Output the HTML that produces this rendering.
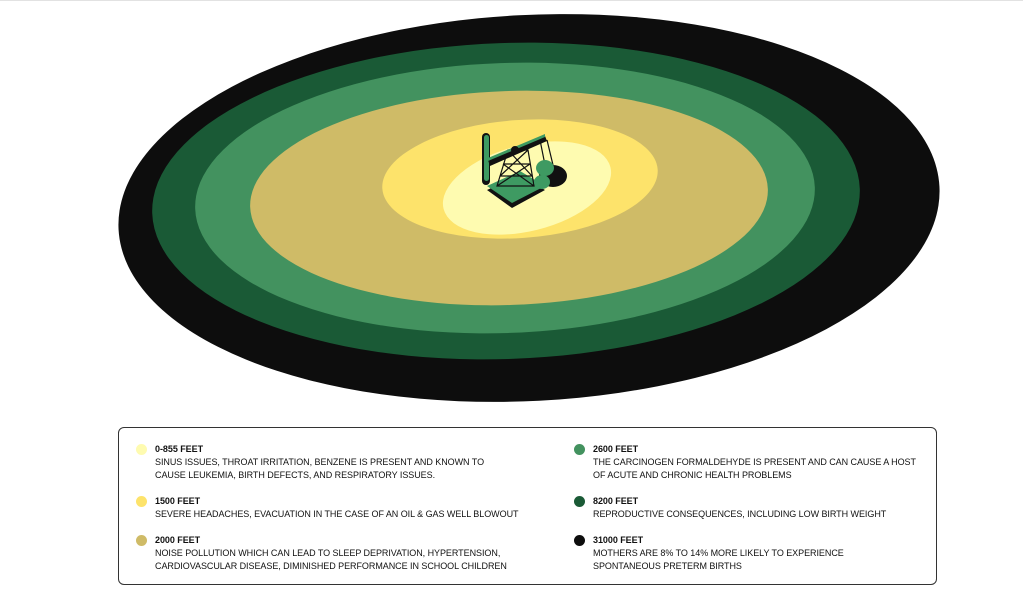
<!DOCTYPE html>
<html><head><style>
html,body{margin:0;padding:0;background:#fff;width:1023px;height:593px;overflow:hidden;font-family:"Liberation Sans",sans-serif;}
.top{position:absolute;left:0;top:0;width:1023px;height:1px;background:#e2e2e2}
.legend{position:absolute;left:118px;top:427px;width:819px;height:158px;border:1.5px solid #333;border-radius:6px;box-sizing:border-box}
.item{position:absolute;font-size:9px;line-height:13px;color:#111;white-space:nowrap;letter-spacing:-0.05px}
.item b{font-weight:bold;display:block}
.dot{position:absolute;width:11px;height:11px;border-radius:50%;left:-19px;top:1px}
</style></head><body>
<div class="top"></div>
<svg width="1023" height="420" style="position:absolute;left:0;top:0">
<ellipse cx="529" cy="208" rx="411" ry="193" fill="#0d0d0d" transform="rotate(-3 529 208)"/>
<ellipse cx="506" cy="201" rx="354" ry="158" fill="#1a5a36" transform="rotate(-2 506 201)"/>
<ellipse cx="505" cy="198" rx="310" ry="135" fill="#43925f" transform="rotate(-2 505 198)"/>
<ellipse cx="509" cy="198" rx="259" ry="107" fill="#cfbb67" transform="rotate(-2 509 198)"/>
<ellipse cx="520" cy="179" rx="138" ry="59" fill="#fde36b" transform="rotate(-4 520 179)"/>
<ellipse cx="527" cy="188" rx="86" ry="43" fill="#fefbb0" transform="rotate(-14 527 188)"/>
<g stroke="#111" stroke-width="1.2" fill="none">
<polygon points="487,190 520,175 545,190 512,208" fill="#111" stroke="none"/>
<polygon points="487,186 520,171 545,186 512,203" fill="#3e9a62" stroke="none"/>
<path d="M497,186 L508,150 L528,150 L534,186 Z M500,176 L532,176 M503,164 L530,164 M508,150 L532,176 M528,150 L500,176 M503,164 L534,186 M530,164 L497,186" />
<rect x="482" y="133" width="8" height="52" rx="4" fill="#111" stroke="none"/>
<rect x="484" y="135" width="5" height="46" rx="2.5" fill="#3e9a62" stroke="none"/>
<polygon points="488,160 545,136 547,141 490,166" fill="#111" stroke="none"/>
<polygon points="488,158 545,134 545,137 488,161" fill="#3e9a62" stroke="none"/>
<circle cx="515" cy="150" r="4" fill="#111" stroke="none"/>
<path d="M540,140 L545,165 M547,140 L553,165"/>
<ellipse cx="553" cy="176" rx="14" ry="11" fill="#111" stroke="none"/>
<ellipse cx="545" cy="168" rx="9" ry="8" fill="#3e9a62" stroke="none"/>
<ellipse cx="542" cy="182" rx="8" ry="7" fill="#3e9a62" stroke="none"/>
</g>
</svg>
<div class="legend">
<div class="item" style="left:36px;top:15px"><span class="dot" style="background:#fefbb0"></span><b>0-855 FEET</b>SINUS ISSUES, THROAT IRRITATION, BENZENE IS PRESENT AND KNOWN TO<br>CAUSE LEUKEMIA, BIRTH DEFECTS, AND RESPIRATORY ISSUES.</div>
<div class="item" style="left:36px;top:67px"><span class="dot" style="background:#fde36b"></span><b>1500 FEET</b>SEVERE HEADACHES, EVACUATION IN THE CASE OF AN OIL &amp; GAS WELL BLOWOUT</div>
<div class="item" style="left:36px;top:106px"><span class="dot" style="background:#cfbb67"></span><b>2000 FEET</b>NOISE POLLUTION WHICH CAN LEAD TO SLEEP DEPRIVATION, HYPERTENSION,<br>CARDIOVASCULAR DISEASE, DIMINISHED PERFORMANCE IN SCHOOL CHILDREN</div>
<div class="item" style="left:474px;top:15px"><span class="dot" style="background:#43925f"></span><b>2600 FEET</b>THE CARCINOGEN FORMALDEHYDE IS PRESENT AND CAN CAUSE A HOST<br>OF ACUTE AND CHRONIC HEALTH PROBLEMS</div>
<div class="item" style="left:474px;top:67px"><span class="dot" style="background:#1a5a36"></span><b>8200 FEET</b>REPRODUCTIVE CONSEQUENCES, INCLUDING LOW BIRTH WEIGHT</div>
<div class="item" style="left:474px;top:106px"><span class="dot" style="background:#0d0d0d"></span><b>31000 FEET</b>MOTHERS ARE 8% TO 14% MORE LIKELY TO EXPERIENCE<br>SPONTANEOUS PRETERM BIRTHS</div>
</div>
</body></html>
